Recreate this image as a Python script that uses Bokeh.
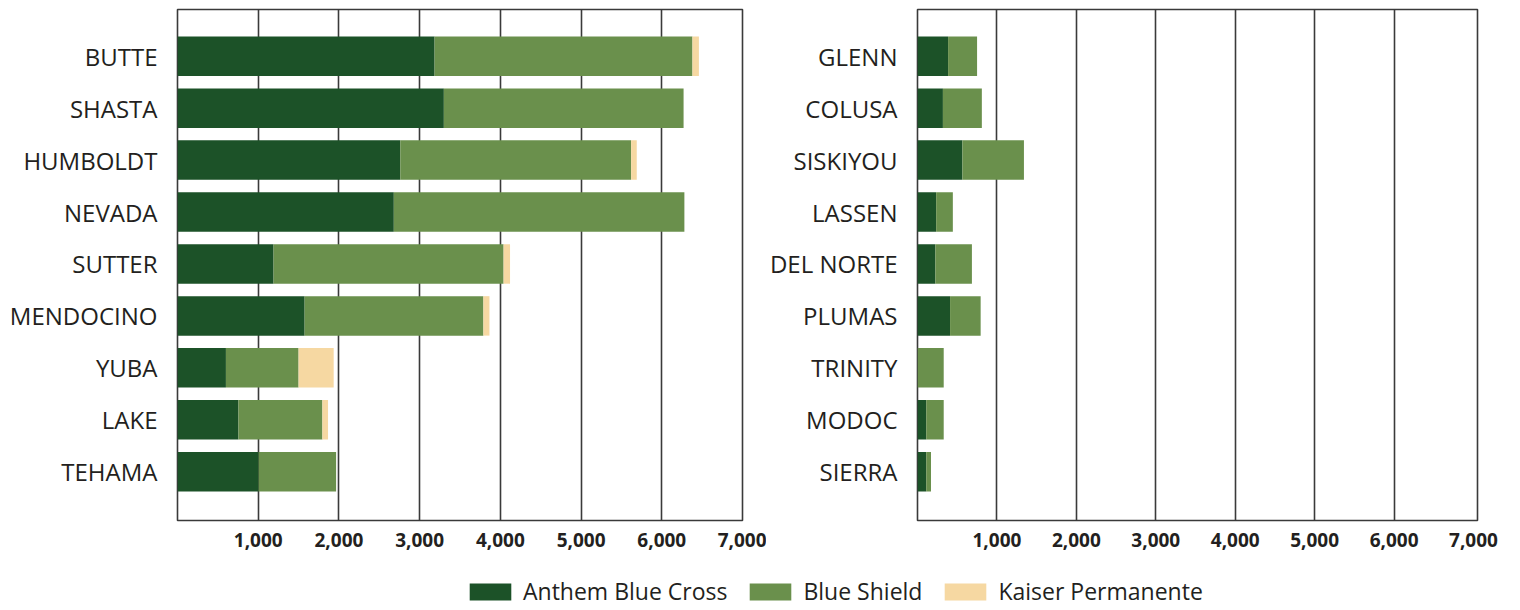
from bokeh.plotting import figure
from bokeh.models import (ColumnDataSource, Range1d, FixedTicker, NumeralTickFormatter,
                          Legend, LegendItem)
from bokeh.layouts import row, column
from bokeh.embed import file_html
from bokeh.resources import INLINE

# ---------------- data ----------------
left_counties = ["BUTTE", "SHASTA", "HUMBOLDT", "NEVADA", "SUTTER",
                 "MENDOCINO", "YUBA", "LAKE", "TEHAMA"]
left_anthem = [3185, 3300, 2760, 2680, 1190, 1575, 600, 755, 1005]
left_blue_shield = [3195, 2970, 2860, 3600, 2850, 2215, 900, 1040, 960]
left_kaiser = [80, 0, 70, 0, 80, 75, 435, 70, 0]

right_counties = ["GLENN", "COLUSA", "SISKIYOU", "LASSEN", "DEL NORTE",
                  "PLUMAS", "TRINITY", "MODOC", "SIERRA"]
right_anthem = [385, 320, 565, 235, 225, 410, 0, 110, 110]
right_blue_shield = [365, 490, 775, 210, 460, 385, 330, 220, 60]
right_kaiser = [0, 0, 0, 0, 0, 0, 0, 0, 0]

series_names = ["Anthem Blue Cross", "Blue Shield", "Kaiser Permanente"]
x_ticks = [1000, 2000, 3000, 4000, 5000, 6000, 7000]

# ---------------- style ----------------
COLORS = ["#1c5228", "#6a904c", "#f6d8a2"]
TEXT = "#231f20"
LINE = "#3a3a3a"
FONT = "Open Sans"


def make_panel(counties, anthem, bs, kaiser, width, border_left, border_right, x_end):
    n = len(counties)
    src = ColumnDataSource(dict(y=list(range(n)), anthem=anthem, bs=bs, kaiser=kaiser))
    p = figure(width=width, height=555, output_backend="svg", toolbar_location=None,
               x_range=Range1d(0, x_end), y_range=Range1d(n - 1 + 0.94, -0.9),
               min_border_left=border_left, min_border_right=border_right,
               min_border_top=9, min_border_bottom=35)
    p.hbar_stack(["anthem", "bs", "kaiser"], y="y", height=0.76, color=COLORS,
                 line_color=None, source=src)
    p.outline_line_color = LINE
    p.outline_line_width = 1.6
    p.outline_line_alpha = 1.0
    p.background_fill_color = "white"
    p.border_fill_color = "white"

    p.ygrid.visible = False
    p.xgrid.ticker = FixedTicker(ticks=[t for t in x_ticks if t < 7000])
    p.xgrid.grid_line_color = LINE
    p.xgrid.grid_line_width = 1.6
    p.xgrid.grid_line_alpha = 1.0

    xa = p.xaxis[0]
    xa.ticker = FixedTicker(ticks=x_ticks)
    xa.formatter = NumeralTickFormatter(format="0,0")
    xa.axis_line_color = None
    xa.major_tick_line_color = None
    xa.minor_tick_line_color = None
    xa.major_label_standoff = 6
    xa.major_label_text_font = FONT
    xa.major_label_text_font_style = "bold"
    xa.major_label_text_font_size = "19px"
    xa.major_label_text_color = TEXT

    ya = p.yaxis[0]
    ya.ticker = FixedTicker(ticks=list(range(n)))
    ya.major_label_overrides = {i: c for i, c in enumerate(counties)}
    ya.axis_line_color = None
    ya.major_tick_line_color = None
    ya.minor_tick_line_color = None
    ya.major_label_standoff = 14
    ya.major_label_text_font = FONT
    ya.major_label_text_font_size = "24px"
    ya.major_label_text_color = TEXT
    return p


p1 = make_panel(left_counties, left_anthem, left_blue_shield, left_kaiser,
                766, 177, 24, 7000)
p2 = make_panel(right_counties, right_anthem, right_blue_shield, right_kaiser,
                738, 146, 27, 7050)

# ---------------- legend strip ----------------
pl = figure(width=1504, height=52, output_backend="svg", toolbar_location=None,
            x_range=Range1d(0, 1), y_range=Range1d(0, 1),
            min_border=0, min_border_left=0, min_border_right=0,
            min_border_top=0, min_border_bottom=0)
pl.axis.visible = False
pl.grid.visible = False
pl.outline_line_color = None
items = []
for name, col in zip(series_names, COLORS):
    # zero-size placeholder renderer, only used for the legend swatch
    r = pl.hbar(y=[0.5], left=[0], right=[0], height=0.0, color=col, line_color=None)
    items.append(LegendItem(label=name, renderers=[r]))
leg = Legend(items=items, orientation="horizontal", location=(464, 0),
             glyph_width=52, glyph_height=21, label_standoff=7, spacing=17,
             padding=0, margin=0, border_line_alpha=0, background_fill_alpha=0,
             label_text_font=FONT, label_text_font_size="23px",
             label_text_color=TEXT)
pl.add_layout(leg)

layout = column(row(p1, p2), pl)
open("out.html", "w").write(file_html(layout, INLINE))
